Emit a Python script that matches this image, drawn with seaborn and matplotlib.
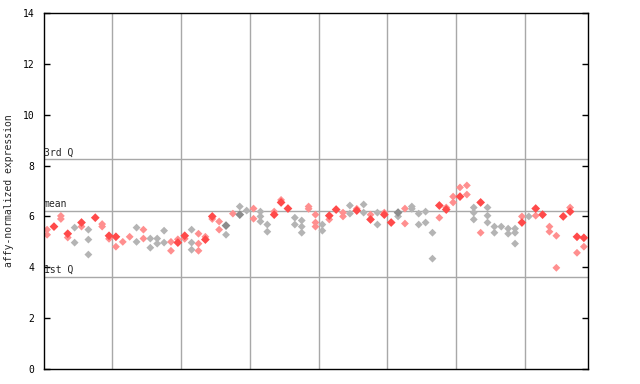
import pandas as pd
import seaborn as sns
import matplotlib
matplotlib.use("Agg")
import matplotlib.pyplot as plt

sns.set_style("white")
plt.rcParams['font.family'] = ['DejaVu Sans Mono', 'DejaVu Sans']

# sample columns (one per sample) and the values
filled = [None, 5.6, None, 5.32, None, 5.76, None, 5.95, None, 5.24,
          5.2, None, None, None, None, None, None, None, None, 4.97,
          5.24, None, None, 5.09, 6.0, None, 5.64, None, 6.07, None,
          None, None, None, 6.07, 6.55, 6.31, None, None, None, None,
          None, 6.03, 6.27, None, None, 6.23, None, 5.88, None, 6.07,
          5.76, 6.15, None, None, None, None, None, 6.43, 6.27, None,
          6.78, None, None, 6.55, None, None, None, None, None, 5.76,
          None, 6.31, 6.07, None, None, 6.0, 6.19, 5.2, 5.16]

hatched = [[5.48, 5.28], [], [6.02, 5.9], [5.17], [5.56, 4.97], [5.6],
           [5.48, 5.09, 4.5], [], [5.7, 5.6], [5.12],
           [4.81], [5.0], [5.2], [5.56, 5.0], [5.48, 5.13], [5.13, 4.77],
           [5.13, 4.93], [5.44, 4.97], [5.0, 4.65], [5.1],
           [5.12], [5.48, 4.97, 4.69], [5.32, 4.93, 4.65], [5.2], [5.9],
           [5.8, 5.48], [5.28], [6.11], [6.39], [6.23],
           [6.31, 5.91], [6.19, 6.0, 5.8], [5.68, 5.4], [6.19], [6.65], [],
           [5.95, 5.68], [5.84, 5.6, 5.36], [6.39, 6.3], [6.07, 5.76, 5.6],
           [5.68, 5.44], [5.88], [], [6.15, 6.0], [6.43, 6.11], [6.3],
           [6.47, 6.15], [6.07], [6.15, 5.68], [6.15],
           [], [6.0], [6.31, 5.72], [6.39, 6.3], [6.11, 5.68], [6.19, 5.76],
           [5.36, 4.34], [5.95], [6.35], [6.78, 6.55],
           [7.14], [7.22, 6.86], [6.35, 6.15, 5.88], [5.36],
           [6.35, 6.03, 5.76], [5.6, 5.36], [5.6], [5.52, 5.32],
           [5.52, 5.36, 4.93], [6.0],
           [6.0], [6.03], [], [5.6, 5.4], [5.24, 3.98], [], [6.35],
           [4.57], [4.81]]

groups = list("RRRRGRGRRRRRRGRGGGRRRGRRRRGRGGRGGRRRGGRRGRRRGRGRGRRGRGGGGRRRRRGRGGGGGRGRRRRRRRR")

q1, mean, q3 = 3.63, 6.22, 8.24

rows = []
for i, g in enumerate(groups):
    if filled[i] is not None:
        rows.append((i, filled[i], g + "f"))
    for v in hatched[i]:
        rows.append((i, v, g + "h"))
df = pd.DataFrame(rows, columns=["sample", "value", "kind"])

palette = {"Rf": "#ff4a4a", "Rh": "#ff8f8f", "Gf": "#8c8c8c", "Gh": "#b4b4b4"}

fig = plt.figure(figsize=(6.4, 3.84), dpi=100)
ax = fig.add_axes([44 / 640, 15 / 384, 544 / 640, 356 / 384])

for y in (q1, mean, q3):
    ax.axhline(y, color="#a8a8a8", lw=1, zorder=0)
for x in range(9, 79, 10):
    ax.axvline(x + 0.45, color="#a8a8a8", lw=1, zorder=0)

hat = df[df["kind"].str.endswith("h")]
sol = df[df["kind"].str.endswith("f")]
sns.scatterplot(data=hat, x="sample", y="value", hue="kind", palette=palette,
                marker="D", s=16, linewidth=0, legend=False, ax=ax, zorder=2)
sns.scatterplot(data=sol, x="sample", y="value", hue="kind", palette=palette,
                marker="D", s=20, linewidth=0, legend=False, ax=ax, zorder=3)

for y, lab in ((q3, "3rd Q"), (mean, "mean"), (q1, "1st Q")):
    ax.text(0.0, y + 0.08, lab, fontsize=7, va="bottom", ha="left",
            transform=ax.get_yaxis_transform())

ax.set_xlim(-0.45, 78.6)
ax.set_ylim(0, 14)
ax.set_yticks(range(0, 15, 2))
ax.set_xticks([])
ax.set_xlabel("")
ax.set_ylabel("affy-normalized expression", fontsize=7, labelpad=6)
ax.tick_params(axis="y", direction="in", length=4, width=1, labelsize=7,
               left=True, right=True, colors="black", pad=7)
for s in ax.spines.values():
    s.set_color("black")
    s.set_linewidth(1)

fig.savefig("out.png", dpi=100)
